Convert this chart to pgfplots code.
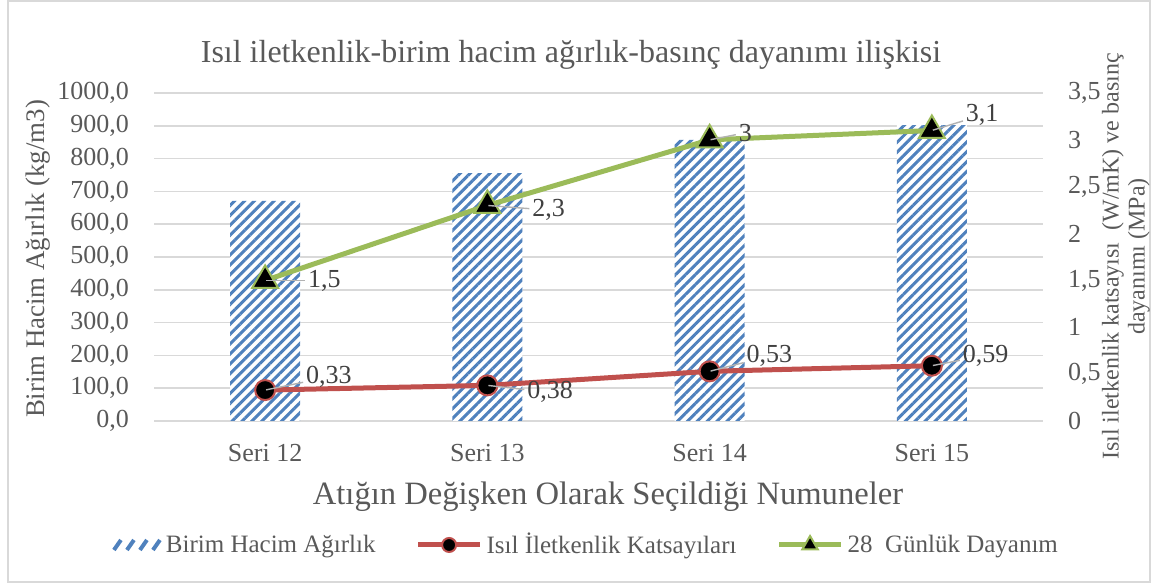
\documentclass[border=0pt]{standalone}
\usepackage{fontspec}
\setmainfont{Liberation Serif}
\usepackage{pgfplots}
\pgfplotsset{compat=1.18}
\usetikzlibrary{patterns.meta}
\definecolor{barblue}{HTML}{4F81BD}
\definecolor{redline}{HTML}{C0504D}
\definecolor{greenline}{HTML}{9BBB59}
\definecolor{labelgray}{HTML}{595959}
\definecolor{datagray}{HTML}{404040}
\definecolor{gridgray}{HTML}{D9D9D9}
\pgfplotsset{/pgf/number format/assume math mode=true,
  longline/.style={legend image code/.code={\draw[mark repeat=2,mark phase=2,##1] plot coordinates {(0pt,0pt) (15.5pt,0pt) (31pt,0pt)};}},
  datalabels/.style={
    nodes near coords={},
    visualization depends on={value \thisrow{ang}\as\labang},
    visualization depends on={value \thisrow{dist}\as\labdist},
    every node near coord/.append style={anchor=center, inner sep=0pt, minimum size=0pt,
      pin={[anchor=west, inner sep=0pt, pin distance=\labdist pt, font=\fontsize{13}{15}\selectfont, text=datagray,
        pin edge={gray!60, line width=0.7pt, shorten >=1pt}]\labang:{\pgfmathprintnumber{\pgfplotspointmeta}}}}
  }
}
\begin{document}
\begin{tikzpicture}
\useasboundingbox (0,0) rectangle (576.5pt,292pt);
\draw[gridgray, line width=0.8pt] (4pt,1pt) rectangle (575pt,291.5pt);
% bars, left axis
\begin{axis}[
  at={(77pt,81.5pt)}, anchor=south west,
  width=444.5pt, height=164pt, scale only axis,
  xmin=-0.5, xmax=3.5, ymin=0, ymax=1000,
  ytick={0,100,200,300,400,500,600,700,800,900,1000},
  xtick={0,1,2,3},
  xticklabels={Seri 12,Seri 13,Seri 14,Seri 15},
  axis x line*=bottom, axis y line*=left,
  x axis line style={gridgray, line width=0.8pt, -},
  y axis line style={draw=none},
  xtick style={draw=none}, ytick style={draw=none},
  extra x ticks={-0.5,0.5,1.5,2.5,3.5},
  extra x tick labels={},
  extra x tick style={major tick length=5pt, tick align=outside, grid=none,
    tick style={draw=gridgray, line width=0.8pt}},
  ymajorgrids, grid style={gridgray, line width=0.8pt},
  tick label style={font=\fontsize{13}{15}\selectfont, text=labelgray},
  xticklabel style={yshift=-4pt},
  yticklabel style={xshift=-9pt, /pgf/number format/.cd, fixed, fixed zerofill, precision=1, use comma, 1000 sep={}},
  ybar, bar width=35pt,
]
\addplot[draw=none, fill=white, postaction={pattern={Lines[angle=45,distance=3.5pt,line width=1.5pt]}, pattern color=barblue}]
  coordinates {(0,671) (1,756) (2,857) (3,902)};
\end{axis}
% lines, right axis
\begin{axis}[
  at={(77pt,81.5pt)}, anchor=south west,
  width=444.5pt, height=164pt, scale only axis,
  xmin=-0.5, xmax=3.5, ymin=0, ymax=3.5,
  axis x line=none, axis y line*=right,
  y axis line style={draw=none}, ytick style={draw=none},
  ytick={0,0.5,1,1.5,2,2.5,3,3.5},
  tick label style={font=\fontsize{13}{15}\selectfont, text=labelgray},
  yticklabel style={xshift=9pt, /pgf/number format/.cd, use comma, 1000 sep={}},
  /pgf/number format/use comma,
  legend columns=3,
  legend style={at={(0.487,-0.378)}, anchor=center, draw=none, fill=none,
    font=\fontsize{12.5}{14}\selectfont, text=labelgray,
    /tikz/every even column/.append style={column sep=18pt}},
]
\addlegendimage{legend image code/.code={
  \foreach \i in {0,1,2,3} {\draw[barblue, line width=2pt] (\i*6.5pt-4pt,-2.5pt) -- ++(3.5pt,5pt);}
}}
\addlegendentry{Birim Hacim Ağırlık}
\addplot[redline, line width=2.5pt, mark=*, mark size=5pt,
  mark options={fill=black, draw=redline, line width=1pt},
  longline, legend image post style={mark size=3.5pt},
  datalabels,
] table {
x y ang dist
0 0.33 18.4 20.5
1 0.38 -10.4 19.3
2 0.53 23.2 19.0
3 0.59 19.0 15.3
};
\addlegendentry{Isıl İletkenlik Katsayıları}
\addplot[greenline, line width=2.5pt, mark=triangle*, mark size=7.5pt,
  mark options={fill=black, draw=greenline, line width=1pt},
  longline, legend image post style={mark size=4.5pt},
  datalabels,
] table {
x y ang dist
0 1.5 0 20.5
1 2.3 -6.6 21.6
2 3.0 14.5 14.0
3 3.1 25.1 17.7
};
\addlegendentry{28~ Günlük Dayanım}
\end{axis}
\node[font=\fontsize{16}{19}\selectfont, text=labelgray] at (285.5pt,264.5pt) {Isıl iletkenlik-birim hacim ağırlık-basınç dayanımı ilişkisi};
\node[font=\fontsize{16.3}{19}\selectfont, text=labelgray] at (304pt,43.5pt) {Atığın Değişken Olarak Seçildiği Numuneler};
\node[rotate=90, font=\fontsize{13.4}{16}\selectfont, text=labelgray] at (19pt,162.5pt) {Birim Hacim Ağırlık (kg/m3)};
\node[rotate=90, align=center, font=\fontsize{12}{13}\selectfont, text=labelgray] at (563pt,163.8pt) {Isıl iletkenlik katsayısı\ \ (W/mK) ve basınç\\dayanımı (MPa)};
\end{tikzpicture}
\end{document}
